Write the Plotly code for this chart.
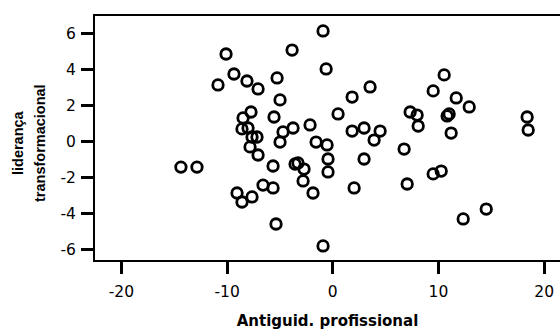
import plotly.graph_objects as go

# Professional seniority (centred) vs. transformational leadership (centred)
antiguidade = [
    -14.37, -12.85, -10.86, -10.10, -9.35, -8.12, -7.07, -3.85, -5.27, -4.99,
    -5.56, -7.74, -8.49, -8.59, -8.02, -7.64, -7.17, -7.83, -7.07, -4.71,
    -3.76, -4.99, -2.15, -1.58, -0.54, -0.45, -0.45, -3.57, -3.29, -2.72,
    -2.81, -1.87, -5.65, -9.06, -8.59, -7.64, -6.60, -5.65, -5.37, -0.92,
    -0.92, -0.63, 0.50, 1.83, 3.53, 1.83, 2.96, 4.48, 3.91, 2.96,
    2.02, 6.75, 7.04, 7.32, 7.98, 8.08, 9.50, 10.54, 11.68, 12.91,
    10.82, 11.01, 11.20, 18.39, 18.49, 9.50, 10.26, 12.34, 14.52,
]
lideranca = [
    -1.41, -1.41, 3.15, 4.87, 3.76, 3.37, 2.93, 5.09, 3.54, 2.32,
    1.37, 1.65, 1.32, 0.71, 0.76, 0.26, 0.26, -0.29, -0.74, 0.54,
    0.76, -0.02, 0.93, -0.02, -0.18, -0.96, -1.68, -1.24, -1.18, -1.52,
    -2.18, -2.85, -1.35, -2.85, -3.35, -3.07, -2.41, -2.57, -4.57, -5.79,
    6.15, 4.04, 1.54, 2.48, 3.04, 0.59, 0.76, 0.59, 0.09, -0.96,
    -2.57, -0.41, -2.35, 1.65, 1.48, 0.87, 2.82, 3.71, 2.43, 1.93,
    1.43, 1.54, 0.48, 1.37, 0.65, -1.79, -1.63, -4.29, -3.74,
]

x_ticks = [-20, -10, 0, 10, 20]
y_ticks = [-6, -4, -2, 0, 2, 4, 6]

WIDE = "DejaVu Sans, Verdana, sans-serif"
NARROW = "Liberation Sans, Arial, sans-serif"

fig = go.Figure(
    go.Scatter(
        x=antiguidade,
        y=lideranca,
        mode="markers",
        marker=dict(symbol="circle-open", size=10.5, color="black",
                    line=dict(width=2.8, color="black")),
        hoverinfo="x+y",
    )
)

fig.update_layout(
    width=560,
    height=333,
    margin=dict(l=95, r=0, t=16, b=73),
    paper_bgcolor="white",
    plot_bgcolor="white",
    showlegend=False,
    font=dict(family=WIDE, color="black"),
)

fig.update_xaxes(
    range=[-22.5, 21.5],
    tickvals=x_ticks,
    ticktext=[str(v) for v in x_ticks],
    showgrid=False,
    zeroline=False,
    showline=True,
    linecolor="black",
    linewidth=2,
    mirror=True,
    ticks="outside",
    ticklen=12,
    tickwidth=2.5,
    tickcolor="black",
    tickfont=dict(size=15.5, family=WIDE, color="black"),
    ticklabelstandoff=4,
    title=dict(text="<b>Antiguid. profissional</b>",
               font=dict(size=15, family=WIDE, color="black"),
               standoff=16),
)

fig.update_yaxes(
    range=[-6.57, 6.98],
    tickvals=y_ticks,
    ticktext=[str(v) for v in y_ticks],
    showgrid=False,
    zeroline=False,
    showline=True,
    linecolor="black",
    linewidth=2,
    ticks="outside",
    ticklen=12,
    tickwidth=2.5,
    tickcolor="black",
    tickfont=dict(size=15.5, family=WIDE, color="black"),
    ticklabelstandoff=2,
)

# Two-line rotated y-axis title
for text, xpx, ypx in [("liderança", 18, 143), ("transformacional", 40, 143)]:
    fig.add_annotation(
        text=f"<b>{text}</b>",
        xref="paper", yref="paper",
        x=(xpx - 95) / 465, y=(260 - ypx) / 244,
        xanchor="center", yanchor="middle",
        textangle=-90,
        showarrow=False,
        font=dict(size=14.5, family=NARROW, color="black"),
    )

fig.write_html("out.html")
